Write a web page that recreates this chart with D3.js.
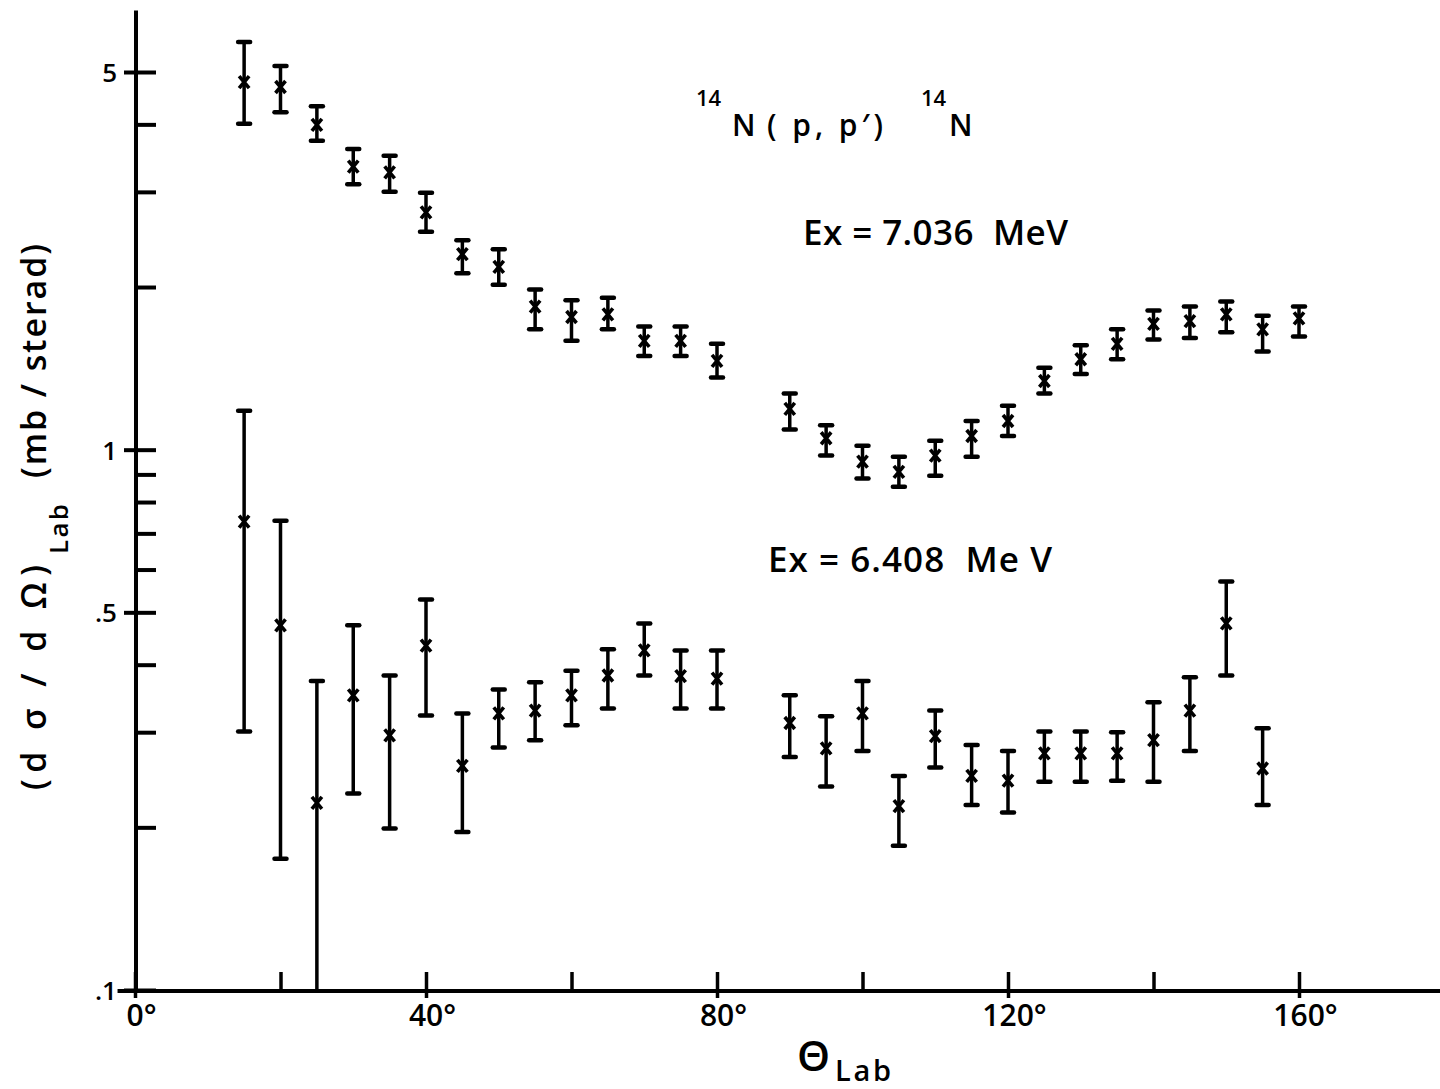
<!DOCTYPE html>
<html>
<head>
<meta charset="utf-8">
<script src="https://cdn.jsdelivr.net/npm/d3@7"></script>
<style>
  body { margin: 0; background: #fff; }
  svg text { font-family: "Open Sans", "DejaVu Sans", sans-serif; font-weight: 600; fill: #000; }
</style>
</head>
<body>
<script>
// Ex = 7.036 MeV (upper set)
var angles7 = [15, 20, 25, 30, 35, 40, 45, 50, 55, 60, 65, 70, 75, 80,
               90, 95, 100, 105, 110, 115, 120, 125, 130, 135, 140, 145, 150, 155, 160];
var val7 = [4.79, 4.69, 3.99, 3.34, 3.26, 2.75, 2.30, 2.18, 1.84, 1.76, 1.78, 1.59, 1.59, 1.46,
            1.19, 1.05, 0.95, 0.91, 0.975, 1.06, 1.13, 1.34, 1.47, 1.57, 1.71, 1.73, 1.78, 1.67, 1.75];
var hi7 = [5.68, 5.13, 4.32, 3.60, 3.50, 2.99, 2.44, 2.35, 1.98, 1.89, 1.91, 1.69, 1.69, 1.57,
           1.27, 1.11, 1.017, 0.97, 1.039, 1.13, 1.206, 1.418, 1.56, 1.67, 1.81, 1.84, 1.88, 1.77, 1.84];
var lo7 = [4.01, 4.21, 3.73, 3.10, 3.00, 2.53, 2.12, 2.02, 1.67, 1.59, 1.67, 1.49, 1.49, 1.36,
           1.09, 0.975, 0.884, 0.854, 0.895, 0.97, 1.06, 1.27, 1.38, 1.47, 1.60, 1.61, 1.65, 1.52, 1.62];

// Ex = 6.408 MeV (lower set)
var angles6 = [15, 20, 25, 30, 35, 40, 45, 50, 55, 60, 65, 70, 75, 80,
               90, 95, 100, 105, 110, 115, 120, 125, 130, 135, 140, 145, 150, 155];
var val6 = [0.736, 0.473, 0.222, 0.351, 0.296, 0.434, 0.260, 0.325, 0.329, 0.351, 0.382, 0.425, 0.381, 0.377,
            0.312, 0.280, 0.325, 0.219, 0.295, 0.249, 0.244, 0.274, 0.274, 0.274, 0.290, 0.329, 0.477, 0.257];
var hi6 = [1.18, 0.739, 0.373, 0.473, 0.382, 0.528, 0.325, 0.360, 0.371, 0.390, 0.427, 0.477, 0.425, 0.425,
           0.351, 0.321, 0.373, 0.249, 0.329, 0.284, 0.277, 0.301, 0.301, 0.300, 0.341, 0.379, 0.570, 0.305];
var lo6 = [0.301, 0.175, 0.100, 0.231, 0.199, 0.322, 0.196, 0.281, 0.290, 0.309, 0.332, 0.382, 0.332, 0.332,
           0.270, 0.238, 0.277, 0.185, 0.258, 0.220, 0.213, 0.243, 0.243, 0.244, 0.243, 0.277, 0.382, 0.220];

// ticks
var xTicks = [0, 20, 40, 60, 80, 100, 120, 140, 160];
var xLabeled = [0, 40, 80, 120, 160];
var yTicks = [0.1, 0.2, 0.3, 0.4, 0.5, 0.6, 0.7, 0.8, 0.9, 1, 2, 3, 4, 5];
var yLabels = {0.1: ".1", 0.5: ".5", 1: "1", 5: "5"};

var w = 1440, h = 1089;

var x = d3.scaleLinear().domain([0, 160]).range([135, 1299]);
var y = d3.scaleLog().domain([0.1, 5]).range([990, 72]);

var svg = d3.select("body").append("svg")
    .attr("width", w)
    .attr("height", h)
    .style("background", "#fff");

// rows for drawing
var set7 = angles7.map(function(a, i) { return {a: a, v: val7[i], hi: hi7[i], lo: lo7[i]}; });
var set6 = angles6.map(function(a, i) { return {a: a, v: val6[i], hi: hi6[i], lo: lo6[i]}; });

// axes (ticks only, lines drawn by hand below)
var yAxis = d3.axisLeft(y)
    .tickValues(yTicks)
    .tickSizeInner(-20)
    .tickSizeOuter(0)
    .tickPadding(19)
    .tickFormat(function(d) { return yLabels[d] || ""; });

var gy = svg.append("g")
    .attr("transform", "translate(136,0)")
    .call(yAxis);
gy.select(".domain").remove();
gy.selectAll(".tick line")
    .attr("stroke", "#000")
    .attr("stroke-width", 4)
    .attr("x1", function(d) { return yLabels[d] ? -12 : 0; });
gy.selectAll(".tick text")
    .attr("font-size", 26)
    .attr("dy", "0.36em");

var xAxis = d3.axisBottom(x)
    .tickValues(xTicks)
    .tickSizeInner(-19)
    .tickSizeOuter(0)
    .tickPadding(14)
    .tickFormat(function(d) { return xLabeled.indexOf(d) >= 0 ? d + "°" : ""; });

var gx = svg.append("g")
    .attr("transform", "translate(0,991)")
    .call(xAxis);
gx.select(".domain").remove();
gx.selectAll(".tick line")
    .attr("stroke", "#000")
    .attr("stroke-width", 3.5)
    .attr("y1", function(d) { return xLabeled.indexOf(d) >= 0 ? 7 : 0; });
gx.selectAll(".tick text")
    .attr("font-size", 30)
    .attr("dx", 6);

// axis lines
svg.append("line")
    .attr("x1", 136).attr("x2", 136)
    .attr("y1", y(6.5)).attr("y2", 993)
    .attr("stroke", "#000").attr("stroke-width", 4);
svg.append("line")
    .attr("x1", x(-2.4)).attr("x2", w)
    .attr("y1", 991).attr("y2", 991)
    .attr("stroke", "#000").attr("stroke-width", 4);

// error bars with x marks
function drawSet(data, cls) {
    var g = svg.append("g").attr("class", cls);
    var pts = g.selectAll("g.pt").data(data).enter().append("g").attr("class", "pt");

    pts.append("line")
        .attr("x1", function(d) { return x(d.a); })
        .attr("x2", function(d) { return x(d.a); })
        .attr("y1", function(d) { return y(d.hi); })
        .attr("y2", function(d) { return y(d.lo); })
        .attr("stroke", "#000").attr("stroke-width", 3.5);

    pts.append("line")
        .attr("x1", function(d) { return x(d.a) - 6; })
        .attr("x2", function(d) { return x(d.a) + 6; })
        .attr("y1", function(d) { return y(d.hi); })
        .attr("y2", function(d) { return y(d.hi); })
        .attr("stroke", "#000").attr("stroke-width", 4.5).attr("stroke-linecap", "round");

    pts.filter(function(d) { return d.lo > 0.1; }).append("line")
        .attr("x1", function(d) { return x(d.a) - 6; })
        .attr("x2", function(d) { return x(d.a) + 6; })
        .attr("y1", function(d) { return y(d.lo); })
        .attr("y2", function(d) { return y(d.lo); })
        .attr("stroke", "#000").attr("stroke-width", 4.5).attr("stroke-linecap", "round");

    pts.append("path")
        .attr("d", function(d) {
            var cx = x(d.a), cy = y(d.v);
            return "M" + (cx - 5) + "," + (cy - 6) + "L" + (cx + 5) + "," + (cy + 6) +
                   "M" + (cx + 5) + "," + (cy - 6) + "L" + (cx - 5) + "," + (cy + 6);
        })
        .attr("stroke", "#000").attr("stroke-width", 3.6).attr("fill", "none");
}

drawSet(set7, "ex7");
drawSet(set6, "ex6");

// plain text labels
function label(tx, ty, size, str, len) {
    var t = svg.append("text")
        .attr("x", tx).attr("y", ty)
        .attr("font-size", size)
        .attr("xml:space", "preserve")
        .text(str);
    if (len) t.attr("textLength", len).attr("lengthAdjust", "spacing");
    return t;
}
// 14N (p, p') 14N
label(696, 106, 22, "14");
label(732, 136, 30, "N");
label(767, 136, 30, "( p, p′)", 116);
label(921, 106, 22, "14");
label(949, 136, 30, "N");

label(803, 245, 35, "Ex = 7.036  MeV", 265);
label(768, 572, 35, "Ex = 6.408  Me V", 284);

// y axis title (rotated, reads bottom to top)
var yt = svg.append("g").attr("transform", "translate(46,790) rotate(-90)");
yt.append("text").attr("x", 0).attr("y", 0).attr("font-size", 34)
    .attr("textLength", 225).attr("lengthAdjust", "spacing")
    .attr("xml:space", "preserve")
    .text("(d σ / d Ω)");
yt.append("text").attr("x", 236).attr("y", 22).attr("font-size", 26)
    .attr("textLength", 50).attr("lengthAdjust", "spacing")
    .text("Lab");
yt.append("text").attr("x", 312).attr("y", 0).attr("font-size", 34)
    .attr("textLength", 234).attr("lengthAdjust", "spacing")
    .attr("xml:space", "preserve")
    .text("(mb / sterad)");

// x axis title
svg.append("text").attr("x", 797).attr("y", 1071).attr("font-size", 42).attr("font-weight", 500).text("Θ");
svg.append("text").attr("x", 835).attr("y", 1081).attr("font-size", 29)
    .attr("textLength", 56).attr("lengthAdjust", "spacing").text("Lab");
</script>
</body>
</html>
